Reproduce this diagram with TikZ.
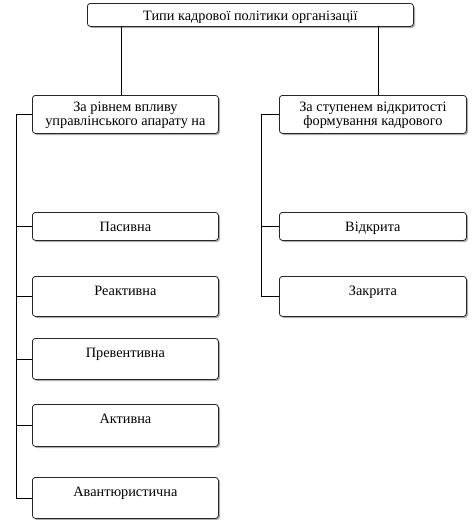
\documentclass[tikz,border=0pt]{standalone}
\usepackage{fontspec}
\setmainfont{Liberation Serif}
\usetikzlibrary{shadows}
\begin{document}
\begin{tikzpicture}[x=1pt,y=-1pt,
  box/.style={draw=black!85,line width=0.8pt,rounded corners=3pt,fill=white,
    drop shadow={shadow xshift=1.6pt,shadow yshift=-1.6pt,fill=black!45,opacity=0.7},
    minimum width=#1,inner sep=0pt,anchor=north west},
  lbl/.style={font=\fontsize{14.3}{12.3}\selectfont,inner sep=0pt,anchor=base,align=center},
  con/.style={draw=black,line width=0.8pt}]
\useasboundingbox (0,0) rectangle (473,520);
% boxes
\node[box=326pt,minimum height=23pt] (top) at (87,3) {};
\node[box=186pt,minimum height=38pt] (L) at (32,95) {};
\node[box=187pt,minimum height=38pt] (R) at (279,95) {};
\node[box=186pt,minimum height=28pt] (a1) at (32,212) {};
\node[box=186pt,minimum height=40pt] (a2) at (32,276) {};
\node[box=186pt,minimum height=41pt] (a3) at (32,338) {};
\node[box=186pt,minimum height=42pt] (a4) at (32,404) {};
\node[box=186pt,minimum height=41pt] (a5) at (32,477) {};
\node[box=187pt,minimum height=28pt] (b1) at (279,212) {};
\node[box=187pt,minimum height=40pt] (b2) at (279,276) {};
% labels
\node[lbl] at ([yshift=-17pt]top.north) {Типи кадрової політики організації};
\begin{scope}
\clip (L.north west) rectangle (L.south east) (R.north west) rectangle (R.south east);
\node[lbl] at ([yshift=-30.5pt]L.north) {За рівнем впливу\\управлінського апарату на};
\node[lbl] at ([yshift=-30.5pt]R.north) {За ступенем відкритості\\формування кадрового};
\end{scope}
\node[lbl] at ([yshift=-19pt]a1.north) {Пасивна};
\node[lbl] at ([yshift=-19pt]a2.north) {Реактивна};
\node[lbl] at ([yshift=-19pt]a3.north) {Превентивна};
\node[lbl] at ([yshift=-19pt]a4.north) {Активна};
\node[lbl] at ([yshift=-19pt]a5.north) {Авантюристична};
\node[lbl] at ([yshift=-19pt]b1.north) {Відкрита};
\node[lbl] at ([yshift=-19pt]b2.north) {Закрита};
% connectors
\coordinate (tl) at (121,0);
\coordinate (tr) at (378,0);
\coordinate (lt) at (16,0);
\coordinate (rt) at (261,0);
\draw[con] (top.south -| tl) -- (L.north -| tl);
\draw[con] (top.south -| tr) -- (R.north -| tr);
\draw[con] (L.west) -- (L.west -| lt) -- (a5.west -| lt) -- (a5.west);
\foreach \n in {a1,a2,a3,a4} \draw[con] (\n.west -| lt) -- (\n.west);
\draw[con] (R.west) -- (R.west -| rt) -- (b2.west -| rt) -- (b2.west);
\draw[con] (b1.west -| rt) -- (b1.west);
\end{tikzpicture}
\end{document}
